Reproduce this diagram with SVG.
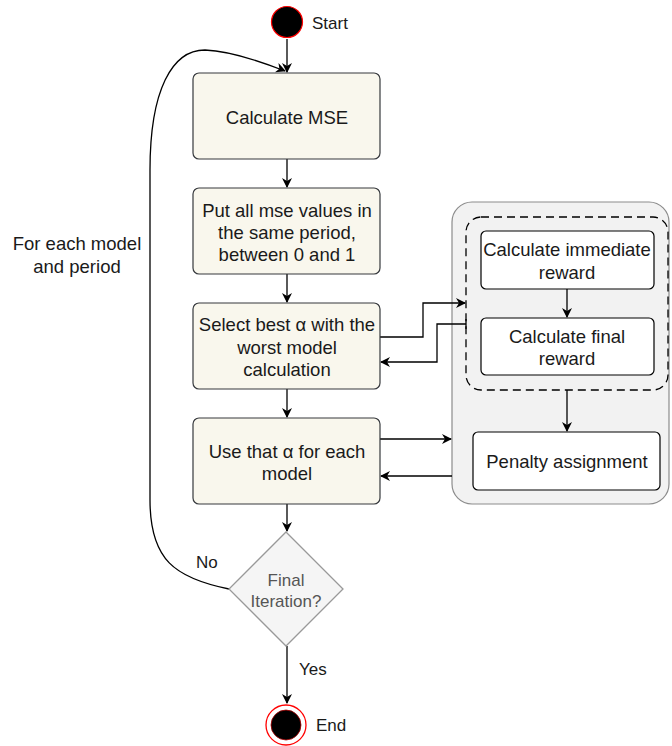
<svg xmlns="http://www.w3.org/2000/svg" width="672" height="746" viewBox="0 0 672 746">
  <style>
    text { font-family: "Liberation Sans", Arial, sans-serif; fill: #1a1a1a; }
    .box { fill: #f9f7ed; stroke: #36393d; stroke-width: 1.2; }
    .wbox { fill: #ffffff; stroke: #000000; stroke-width: 1.2; }
    .bt { font-size: 18.5px; text-anchor: middle; }
    .lbl { font-size: 17px; }
    .edge { fill: none; stroke: #000000; stroke-width: 1.3; }
  </style>
  <defs>
    <marker id="arrow" viewBox="0 0 10 10" refX="9" refY="5" markerWidth="10" markerHeight="10" markerUnits="userSpaceOnUse" orient="auto">
      <path d="M0,0 L10,5 L0,10 L3,5 Z" fill="#000000"/>
    </marker>
  </defs>

  <!-- sub-process panel -->
  <g id="panel">
    <rect x="452" y="202" width="217" height="302" rx="20" fill="#f2f2f2" stroke="#8c8c8c" stroke-width="1.2"/>
    <rect x="466" y="217" width="202" height="173" rx="15" fill="none" stroke="#000000" stroke-width="1.3" stroke-dasharray="8,5"/>
  </g>

  <!-- connectors -->
  <g id="connectors">
    <line class="edge" x1="287" y1="39" x2="287" y2="72" marker-end="url(#arrow)"/>
    <line class="edge" x1="287" y1="159" x2="287" y2="187" marker-end="url(#arrow)"/>
    <line class="edge" x1="287" y1="274" x2="287" y2="302" marker-end="url(#arrow)"/>
    <line class="edge" x1="287" y1="389" x2="287" y2="417" marker-end="url(#arrow)"/>
    <line class="edge" x1="287" y1="504" x2="287" y2="531" marker-end="url(#arrow)"/>
    <line class="edge" x1="287" y1="646" x2="287" y2="703" marker-end="url(#arrow)"/>
    <!-- loop back -->
    <path class="edge" d="M229,589 C175,578 150,560 150,500 L150,170 C150,90 172,50 205,50 C232,51 262,62 285,71" marker-end="url(#arrow)"/>
    <!-- to / from reward group -->
    <polyline class="edge" points="380,337 423,337 423,303 465,303" marker-end="url(#arrow)"/>
    <polyline class="edge" points="466,324 437,324 437,362 381,362" marker-end="url(#arrow)"/>
    <line class="edge" x1="466" y1="319" x2="466" y2="329"/>
    <line class="edge" x1="380" y1="439" x2="451" y2="439" marker-end="url(#arrow)"/>
    <line class="edge" x1="452" y1="476" x2="381" y2="476" marker-end="url(#arrow)"/>
    <line class="edge" x1="567" y1="289" x2="567" y2="317" marker-end="url(#arrow)"/>
    <line class="edge" x1="567" y1="390" x2="567" y2="431" marker-end="url(#arrow)"/>
  </g>

  <g id="start">
    <circle cx="287" cy="22" r="15.5" fill="#000000" stroke="#ff0000" stroke-width="1.2"/>
    <text class="lbl" x="312" y="29">Start</text>
  </g>

  <g id="calc-mse">
    <rect class="box" x="193" y="73" width="187" height="86" rx="6"/>
    <text class="bt" x="287" y="124">Calculate MSE</text>
  </g>

  <g id="normalise">
    <rect class="box" x="193" y="188" width="187" height="86" rx="6"/>
    <text class="bt" x="287" y="217">Put all mse values in</text>
    <text class="bt" x="287" y="239">the same period,</text>
    <text class="bt" x="287" y="261">between 0 and 1</text>
  </g>

  <g id="select-alpha">
    <rect class="box" x="193" y="303" width="187" height="86" rx="6"/>
    <text class="bt" x="287" y="331">Select best α with the</text>
    <text class="bt" x="287" y="354">worst model</text>
    <text class="bt" x="287" y="376">calculation</text>
  </g>

  <g id="use-alpha">
    <rect class="box" x="193" y="418" width="187" height="86" rx="6"/>
    <text class="bt" x="287" y="458">Use that α for each</text>
    <text class="bt" x="287" y="480">model</text>
  </g>

  <g id="immediate-reward">
    <rect class="wbox" x="481" y="231" width="173" height="58" rx="5"/>
    <text class="bt" x="567" y="256">Calculate immediate</text>
    <text class="bt" x="567" y="279">reward</text>
  </g>

  <g id="final-reward">
    <rect class="wbox" x="481" y="318" width="173" height="57" rx="5"/>
    <text class="bt" x="567" y="343">Calculate final</text>
    <text class="bt" x="567" y="365">reward</text>
  </g>

  <g id="penalty">
    <rect class="wbox" x="473" y="432" width="187" height="58" rx="5"/>
    <text class="bt" x="567" y="468">Penalty assignment</text>
  </g>

  <g id="decision">
    <polygon points="286,532 343,589 286,646 229,589" fill="#f5f5f5" stroke="#999999" stroke-width="1.3"/>
    <text class="bt" x="286" y="586" style="fill:#555555;font-size:17px">Final</text>
    <text class="bt" x="286" y="607" style="fill:#555555;font-size:17px">Iteration?</text>
  </g>

  <g id="end">
    <circle cx="286" cy="725" r="20" fill="#ffffff" stroke="#ff0000" stroke-width="1.3"/>
    <circle cx="286" cy="725" r="15" fill="#000000" stroke="#aa0000" stroke-width="0.8"/>
    <text class="lbl" x="316" y="731">End</text>
  </g>

  <g id="labels">
    <text class="lbl" x="77" y="250" text-anchor="middle" style="font-size:18.5px">For each model</text>
    <text class="lbl" x="77" y="273" text-anchor="middle" style="font-size:18.5px">and period</text>
    <text class="lbl" x="196" y="568">No</text>
    <text class="lbl" x="299" y="675">Yes</text>
  </g>
</svg>
